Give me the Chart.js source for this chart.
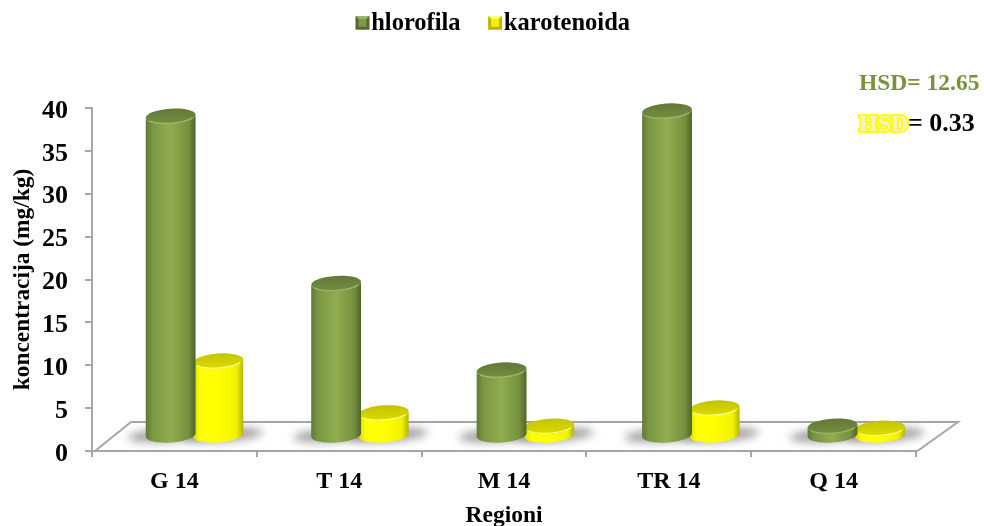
<!DOCTYPE html>
<html>
<head>
<meta charset="utf-8">
<style>
  html, body { margin: 0; background: #fff; }
  #wrap { width: 984px; height: 526px; }
</style>
<script src="https://cdn.jsdelivr.net/npm/chart.js@4/dist/chart.umd.min.js"></script>
</head>
<body>
<div id="wrap"><canvas id="chart" width="984" height="526"></canvas></div>
<script>
const categories = ['G 14', 'T 14', 'M 14', 'TR 14', 'Q 14'];
const hlorofila = [37.3, 17.8, 7.7, 37.9, 1.15];
const karotenoida = [8.75, 2.7, 1.15, 3.27, 0.9];

const FONT = '"Liberation Serif", "Times New Roman", serif';
const AXIS_GREY = '#a6a6a6';
// the bars stand on the 3D floor, so they sit a little off the axis
const DEPTH_X = 20.5, DEPTH_Y = -15;
const CAP_RY = 7.5, CAP_TILT = -4 * Math.PI / 180;

const paints = {
    '#8dab4e': { nudge: 0, stops: ['#5f7a35', '#7b9741', '#8fae50', '#768e3e', '#4f6429'], cap: ['#62793a', '#748d3e'], rim: '#9cb866' },
    '#ffff00': { nudge: -1.5, stops: ['#dcdc00', '#ffff00', '#ffff00', '#f2f200', '#b4b400'], cap: ['#c4c400', '#dada00'], rim: '#ffff70' }
};
const stopAt = [0, 0.14, 0.5, 0.86, 1];

// slight perspective: the bars drift right along the floor
function shiftX(x) {
    return x + DEPTH_X + (x - 92) * 0.004;
}

class Cylinder extends Chart.BarElement {
    draw(ctx) {
        const paint = paints[this.options.backgroundColor];
        const rx = this.width / 2 + 0.5;
        const x = shiftX(this.x) + paint.nudge, top = this.y + DEPTH_Y, base = this.base + DEPTH_Y;
        const grad = ctx.createLinearGradient(x - rx, 0, x + rx, 0);
        paint.stops.forEach((c, i) => grad.addColorStop(stopAt[i], c));

        ctx.save();
        ctx.beginPath();
        ctx.ellipse(x, top, rx, CAP_RY, CAP_TILT, Math.PI, 0, true);
        ctx.ellipse(x, base, rx, CAP_RY, CAP_TILT, 0, Math.PI, false);
        ctx.closePath();
        ctx.fillStyle = grad;
        ctx.fill();

        const capGrad = ctx.createLinearGradient(0, top - CAP_RY, 0, top + CAP_RY);
        capGrad.addColorStop(0, paint.cap[0]);
        capGrad.addColorStop(1, paint.cap[1]);
        ctx.beginPath();
        ctx.ellipse(x, top, rx, CAP_RY, CAP_TILT, 0, Math.PI * 2);
        ctx.fillStyle = capGrad;
        ctx.fill();
        ctx.beginPath();
        ctx.ellipse(x, top, rx - 0.5, CAP_RY - 0.5, CAP_TILT, 0.15 * Math.PI, 0.85 * Math.PI);
        ctx.strokeStyle = paint.rim;
        ctx.lineWidth = 1.2;
        ctx.stroke();
        ctx.restore();
    }
}
Cylinder.id = 'cylinder';
Cylinder.defaults = Chart.BarElement.defaults;
Cylinder.defaultRoutes = Chart.BarElement.defaultRoutes;

class CylinderController extends Chart.BarController {}
CylinderController.id = 'cylinderBar';
CylinderController.defaults = { ...Chart.BarController.defaults, dataElementType: 'cylinder' };
CylinderController.overrides = Chart.BarController.overrides;

Chart.register(Cylinder, CylinderController);

function legendSwatch(light, dark, face) {
    const c = document.createElement('canvas');
    c.width = 30; c.height = 15;
    const g = c.getContext('2d');
    // square sits right of centre so that it ends up close to the label
    const s = 12;
    g.fillStyle = dark; g.fillRect(s, 0, 14, 14);
    g.fillStyle = light; g.beginPath(); g.moveTo(s, 0); g.lineTo(s + 14, 0); g.lineTo(s + 7, 7); g.fill();
    g.fillStyle = face; g.fillRect(s + 3, 3, 8, 8);
    return c;
}

const floorPlugin = {
    id: 'floor',
    beforeInit(chart) {
        const fit = chart.legend.fit;
        chart.legend.fit = function () {
            fit.call(this);
            this.height = 127;
        };
    },
    beforeDatasetsDraw(chart) {
        const { ctx, chartArea: a } = chart;
        ctx.save();
        ctx.strokeStyle = AXIS_GREY;
        ctx.lineWidth = 2;
        ctx.beginPath();
        ctx.moveTo(a.left + 3, a.bottom);
        ctx.lineTo(a.left + 39, a.bottom - 29);
        ctx.lineTo(a.right + 42, a.bottom - 29);
        ctx.lineTo(a.right, a.bottom + 1);
        ctx.stroke();

        // soft shadow under each cylinder
        ctx.filter = 'blur(4px)';
        ctx.fillStyle = 'rgba(110,110,110,0.62)';
        chart.data.datasets.forEach((ds, i) => {
            chart.getDatasetMeta(i).data.forEach(bar => {
                ctx.beginPath();
                ctx.ellipse(shiftX(bar.x) + (i ? 3 : -3), bar.base + DEPTH_Y, 40, 7, CAP_TILT, 0, Math.PI * 2);
                ctx.fill();
            });
        });
        ctx.restore();
    },
    afterDraw(chart) {
        const { ctx } = chart;
        ctx.save();
        ctx.textBaseline = 'alphabetic';
        ctx.font = 'bold 23.5px ' + FONT;
        ctx.fillStyle = '#7b923d';
        ctx.fillText('HSD= 12.65', 859, 90);

        ctx.font = 'bold 24px ' + FONT;
        ctx.lineJoin = 'round';
        ctx.lineWidth = 4;
        ctx.strokeStyle = '#ffff00';
        ctx.strokeText('HSD', 859, 131);
        ctx.fillStyle = '#f4f4c8';
        ctx.fillText('HSD', 859, 131);
        ctx.fillStyle = '#000';
        ctx.font = 'bold 26px ' + FONT;
        ctx.fillText('= 0.33', 908, 131);
        ctx.restore();
    }
};

new Chart(document.getElementById('chart'), {
    type: 'cylinderBar',
    data: {
        labels: categories,
        datasets: [
            { label: 'hlorofila', data: hlorofila, clip: false, backgroundColor: '#8dab4e', pointStyle: legendSwatch('#9cb866', '#56692e', '#7f9a45') },
            { label: 'karotenoida', data: karotenoida, clip: false, backgroundColor: '#ffff00', pointStyle: legendSwatch('#ffff80', '#b8b800', '#f0f000') }
        ]
    },
    plugins: [floorPlugin],
    options: {
        responsive: false,
        animation: false,
        events: [],
        layout: { padding: { top: -19, right: 0, left: 4, bottom: 0 } },
        datasets: { cylinderBar: { categoryPercentage: 0.594, barPercentage: 1 } },
        plugins: {
            tooltip: { enabled: false },
            legend: {
                position: 'top',
                labels: {
                    color: '#000',
                    font: { family: FONT, size: 24.5, weight: 'bold' },
                    usePointStyle: true,
                    pointStyleWidth: 1,
                    padding: 30
                }
            }
        },
        scales: {
            x: {
                afterFit(scale) { scale.height = 75; },
                grid: { drawOnChartArea: false, color: AXIS_GREY, lineWidth: 2, tickLength: 6 },
                border: { color: AXIS_GREY, width: 2 },
                ticks: { color: '#000', font: { family: FONT, size: 24, weight: 'bold' }, padding: 10, maxRotation: 0 },
                title: { display: true, text: 'Regioni', color: '#000', font: { family: FONT, size: 23.5, weight: 'bold' }, padding: { top: 0, bottom: -4 } }
            },
            y: {
                min: 0,
                max: 40,
                afterFit(scale) { scale.width = 88; },
                grid: { drawOnChartArea: false, color: AXIS_GREY, lineWidth: 2, tickLength: 7 },
                border: { color: AXIS_GREY, width: 2 },
                ticks: { stepSize: 5, color: '#000', font: { family: FONT, size: 26, weight: 'bold' }, padding: 17, labelOffset: 3 },
                title: { display: true, text: 'koncentracija (mg/kg)', color: '#000', font: { family: FONT, size: 23.4, weight: 'bold' }, padding: { top: 5, bottom: 0 } }
            },
            // empty margin on the right, where the HSD notes hang over the floor
            rightMargin: {
                position: 'right',
                afterFit(scale) { scale.width = 68; },
                grid: { display: false },
                border: { display: false },
                ticks: { display: false }
            }
        }
    }
});
</script>
</body>
</html>
